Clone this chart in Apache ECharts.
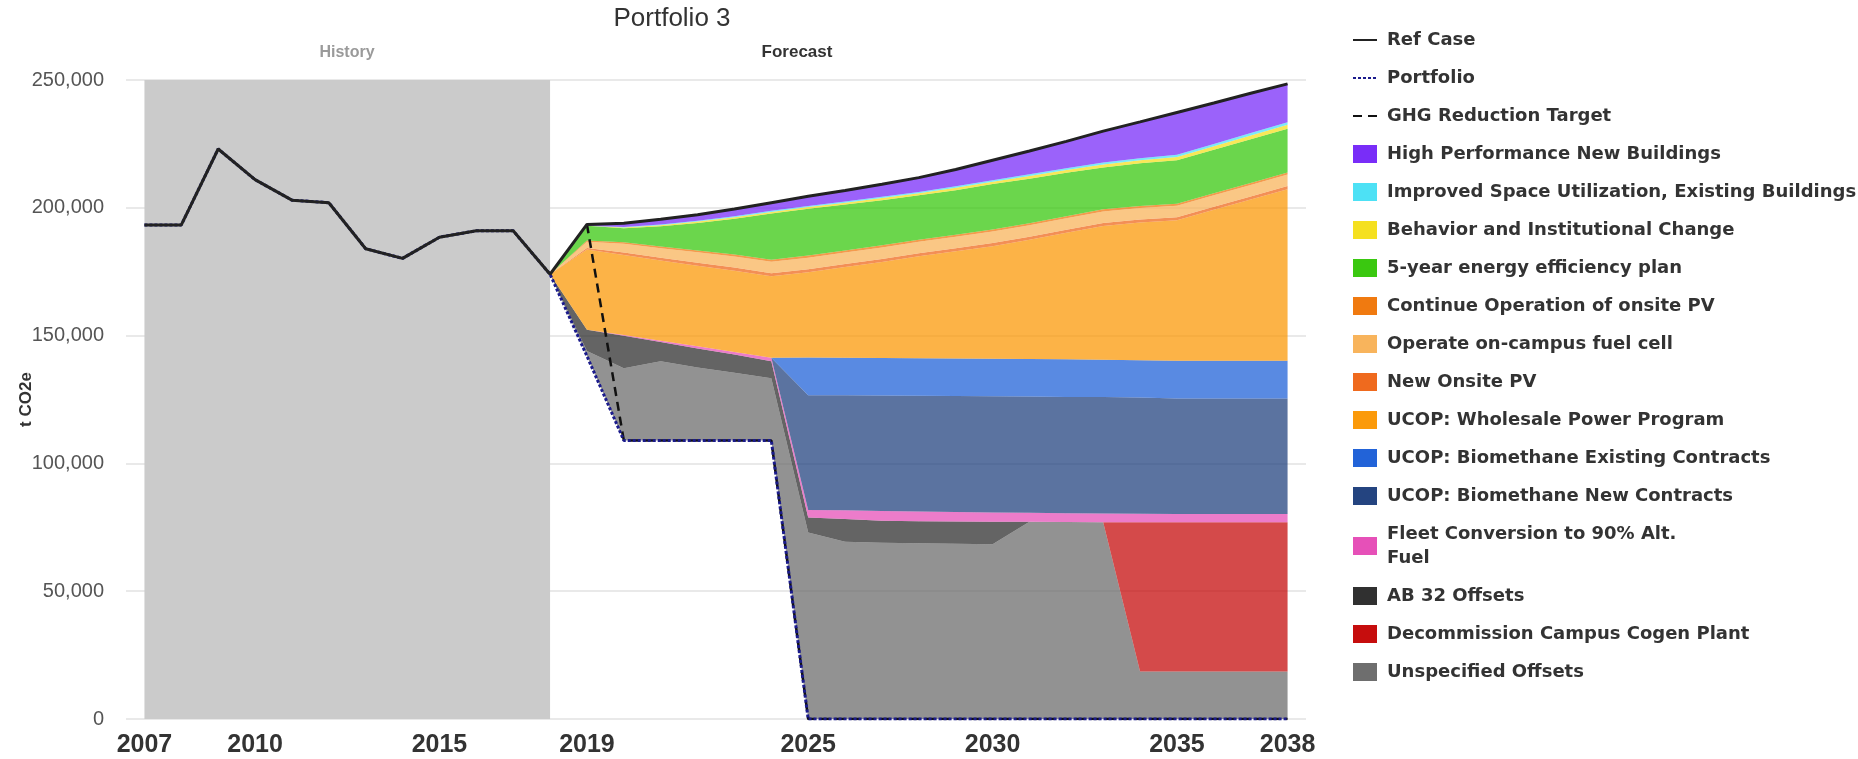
<!DOCTYPE html>
<html>
<head>
<meta charset="utf-8">
<title>Portfolio 3</title>
<script src="https://cdn.jsdelivr.net/npm/echarts@6/dist/echarts.min.js"></script>
<style>
  html, body { margin: 0; padding: 0; background: #fff; }
  #main { width: 1858px; height: 759px; }
</style>
</head>
<body>
<div id="main"></div>
<script>
// x axis: every year of the chart
var years = ['2007', '2008', '2009', '2010', '2011', '2012', '2013', '2014', '2015', '2016', '2017',
  '2018', '2019', '2020', '2021', '2022', '2023', '2024', '2025', '2026', '2027', '2028',
  '2029', '2030', '2031', '2032', '2033', '2034', '2035', '2036', '2037', '2038'];
var yearTicks = ['2007', '2010', '2015', '2019', '2025', '2030', '2035', '2038'];

// lines, 2007-2038 (t CO2e)
var refCase = [193300, 193300, 223000, 211000, 203000, 202000, 184000, 180200, 188500, 191000, 191000,
  174000, 193500, 194000, 195500, 197300, 199500, 202000, 204500, 206800, 209200, 211800,
  215000, 218600, 222200, 226000, 230000, 233600, 237300, 241000, 244800, 248500];
var portfolio = [193300, 193300, 223000, 211000, 203000, 202000, 184000, 180200, 188500, 191000, 191000,
  174000, 142000, 109000, 109000, 109000, 109000, 109000, 0, 0, 0, 0,
  0, 0, 0, 0, 0, 0, 0, 0, 0, 0];
var ghgTarget = [null, null, null, null, null, null, null, null, null, null, null,
  null, 193500, 109000, 109000, 109000, 109000, 109000, 0, 0, 0, 0,
  0, 0, 0, 0, 0, 0, 0, 0, 0, 0];

// wedges, 2018-2038, bottom of the stack first
var unspecified = [0, 2000, 28200, 31000, 28500, 26500, 24300, 73000, 69300, 69000, 68800, 68600, 68400, 77200, 77100, 77000, 18600, 18600, 18600, 18600, 18600];
var decommission = [0, 0, 0, 0, 0, 0, 0, 0, 0, 0, 0, 0, 0, 0, 0, 0, 58400, 58400, 58400, 58400, 58400];
var ab32 = [0, 8300, 12700, 7500, 7500, 7100, 6700, 5800, 8900, 8600, 8600, 8700, 8800, 0, 0, 0, 0, 0, 0, 0, 0];
var fleet = [0, 0, 300, 500, 800, 1000, 1300, 3000, 3500, 3800, 3800, 3700, 3600, 3500, 3400, 3400, 3300, 3200, 3200, 3200, 3200];
var bioNew = [0, 0, 0, 0, 0, 0, 0, 44900, 45000, 45200, 45300, 45400, 45500, 45500, 45500, 45600, 45500, 45200, 45200, 45200, 45200];
var bioExisting = [0, 0, 0, 0, 0, 0, 0, 14700, 14600, 14600, 14600, 14600, 14600, 14600, 14700, 14600, 14600, 14800, 14800, 14800, 14800];
var wholesale = [0, 31400, 31300, 31400, 31500, 31800, 31900, 33400, 35500, 37600, 39900, 42000, 44100, 46700, 49500, 52300, 53800, 54900, 59000, 63000, 67100];
var newPV = [0, 600, 1000, 1100, 1200, 1200, 1200, 1200, 1200, 1200, 1200, 1200, 1200, 1200, 1200, 1200, 1200, 1200, 1200, 1200, 1200];
var fuelCell = [0, 2400, 3400, 3700, 4100, 4300, 4500, 4500, 4500, 4500, 4500, 4500, 4500, 4500, 4500, 4500, 4500, 4500, 4500, 4500, 4500];
var continuePV = [0, 500, 600, 700, 700, 800, 800, 800, 800, 800, 800, 800, 800, 800, 800, 800, 800, 800, 800, 800, 800];
var efficiency = [0, 5800, 5500, 7900, 10800, 14000, 18100, 18300, 18000, 17700, 17400, 17400, 17800, 17400, 17000, 16400, 16700, 17000, 17000, 17100, 17100];
var behavior = [0, 0, 300, 400, 500, 600, 600, 700, 700, 800, 800, 900, 900, 1000, 1100, 1100, 1200, 1300, 1400, 1500, 1600];
var spaceUtil = [0, 0, 200, 300, 300, 400, 400, 400, 500, 500, 500, 600, 600, 700, 700, 800, 800, 900, 900, 1000, 1000];
var highPerf = [0, 500, 1500, 2000, 2400, 2800, 3200, 3800, 4300, 4900, 5600, 6600, 7800, 9100, 10500, 12300, 14200, 16500, 16000, 15500, 15000];

var historyLen = 11; // 2007-2017 have no wedges

function clean(vals) {
  return vals.map(function (v) { return v == null ? '-' : v; });
}
function wedgeData(vals) {
  var pad = [];
  for (var i = 0; i < historyLen; i++) pad.push('-');
  return pad.concat(vals);
}

function wedge(name, color, vals) {
  return {
    name: name,
    type: 'line',
    stack: 'total',
    symbol: 'none',
    color: color,
    lineStyle: { width: 0 },
    areaStyle: { color: color, opacity: 0.75 },
    data: wedgeData(vals)
  };
}

var fleetName = 'Fleet Conversion to 90% Alt. Fuel';
var noSymbol = { opacity: 0 };

var myChart = echarts.init(document.getElementById('main'));
myChart.setOption({
  animation: false,
  textStyle: { fontFamily: 'Liberation Sans, Arial, sans-serif' },
  title: [
    { text: 'Portfolio 3', left: 672, top: 6, textAlign: 'center', padding: 0,
      textStyle: { fontSize: 26, fontWeight: 'normal', color: '#333' } },
    { text: 'History', left: 347, top: 45, textAlign: 'center', padding: 0,
      textStyle: { fontSize: 16, fontWeight: 'bold', color: '#9a9a9a' } },
    { text: 'Forecast', left: 797, top: 44, textAlign: 'center', padding: 0,
      textStyle: { fontSize: 17, fontWeight: 'bold', color: '#333' } }
  ],
  legend: {
    orient: 'vertical',
    left: 1352,
    top: 28,
    padding: 0,
    itemWidth: 24,
    itemHeight: 18,
    itemGap: 14,
    textStyle: {
      fontFamily: 'DejaVu Sans',
      fontWeight: 'bold',
      fontSize: 18,
      lineHeight: 24,
      color: '#333',
      padding: [0, 0, 0, 5]
    },
    formatter: function (name) {
      return name === fleetName ? 'Fleet Conversion to 90% Alt.\nFuel' : name;
    },
    data: [
      { name: 'Ref Case', itemStyle: noSymbol },
      { name: 'Portfolio', itemStyle: noSymbol },
      { name: 'GHG Reduction Target', itemStyle: noSymbol },
      { name: 'High Performance New Buildings', icon: 'rect' },
      { name: 'Improved Space Utilization, Existing Buildings', icon: 'rect' },
      { name: 'Behavior and Institutional Change', icon: 'rect' },
      { name: '5-year energy efficiency plan', icon: 'rect' },
      { name: 'Continue Operation of onsite PV', icon: 'rect' },
      { name: 'Operate on-campus fuel cell', icon: 'rect' },
      { name: 'New Onsite PV', icon: 'rect' },
      { name: 'UCOP: Wholesale Power Program', icon: 'rect' },
      { name: 'UCOP: Biomethane Existing Contracts', icon: 'rect' },
      { name: 'UCOP: Biomethane New Contracts', icon: 'rect' },
      { name: fleetName, icon: 'rect' },
      { name: 'AB 32 Offsets', icon: 'rect' },
      { name: 'Decommission Campus Cogen Plant', icon: 'rect' },
      { name: 'Unspecified Offsets', icon: 'rect' }
    ]
  },
  grid: {
    left: 126,
    top: 80,
    width: 1180,
    height: 639,
    outerBoundsMode: 'none'
  },
  xAxis: {
    type: 'category',
    data: years,
    boundaryGap: true,
    splitLine: { show: false },
    axisLine: { show: false },
    axisTick: { show: false },
    axisLabel: {
      interval: function (idx, val) { return yearTicks.indexOf(val) >= 0; },
      fontSize: 25,
      fontWeight: 'bold',
      color: '#333',
      margin: 14
    }
  },
  yAxis: {
    type: 'value',
    min: 0,
    max: 250000,
    interval: 50000,
    name: 't CO2e',
    nameLocation: 'middle',
    nameRotate: 90,
    nameGap: 91,
    nameMoveOverlap: false,
    nameTextStyle: { fontSize: 17, fontWeight: 'bold', color: '#333' },
    axisLine: { show: false },
    axisTick: { show: false },
    splitLine: { lineStyle: { color: '#e2e2e2', width: 1.5 } },
    axisLabel: {
      fontSize: 20,
      color: '#555',
      margin: 22,
      formatter: function (v) { return v.toLocaleString('en-US'); }
    }
  },
  series: [
    {
      name: 'Portfolio',
      type: 'line',
      stack: 'total',
      symbol: 'none',
      z: 5,
      color: '#1b1b8c',
      lineStyle: { color: '#1b1b8c', width: 3, type: [3, 2] },
      data: clean(portfolio)
    },
    wedge('Unspecified Offsets', '#6e6e6e', unspecified),
    wedge('Decommission Campus Cogen Plant', '#c60d0d', decommission),
    wedge('AB 32 Offsets', '#303030', ab32),
    wedge(fleetName, '#e650b8', fleet),
    wedge('UCOP: Biomethane New Contracts', '#244480', bioNew),
    wedge('UCOP: Biomethane Existing Contracts', '#2263d8', bioExisting),
    wedge('UCOP: Wholesale Power Program', '#fb9a0a', wholesale),
    wedge('New Onsite PV', '#ef6a1e', newPV),
    wedge('Operate on-campus fuel cell', '#f8b45c', fuelCell),
    wedge('Continue Operation of onsite PV', '#f07a10', continuePV),
    wedge('5-year energy efficiency plan', '#3ac810', efficiency),
    wedge('Behavior and Institutional Change', '#f5e020', behavior),
    wedge('Improved Space Utilization, Existing Buildings', '#4de1f5', spaceUtil),
    wedge('High Performance New Buildings', '#792df8', highPerf),
    {
      name: 'Ref Case',
      type: 'line',
      symbol: 'none',
      z: 6,
      color: '#222',
      lineStyle: { color: '#222', width: 3 },
      data: clean(refCase),
      // grey history band
      markArea: {
        silent: true,
        itemStyle: { color: '#cbcbcb' },
        data: [[{ xAxis: '2007' }, { xAxis: '2018' }]]
      }
    },
    {
      name: 'GHG Reduction Target',
      type: 'line',
      symbol: 'none',
      z: 4,
      color: '#111',
      lineStyle: { color: '#111', width: 2.5, type: [9, 6] },
      data: clean(ghgTarget)
    }
  ]
});
</script>
</body>
</html>
